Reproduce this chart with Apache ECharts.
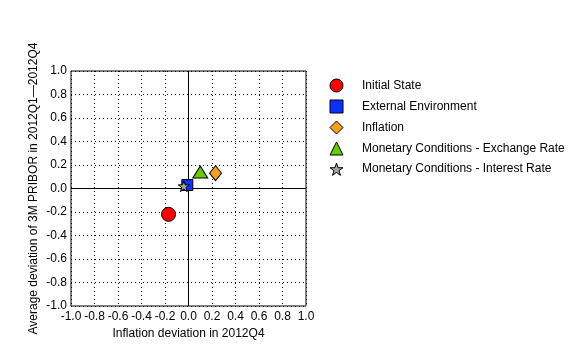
<!DOCTYPE html>
<html><head><meta charset="utf-8">
<script src="https://cdn.jsdelivr.net/npm/echarts@6/dist/echarts.min.js"></script>
<style>html,body{margin:0;padding:0;background:#fff}#c{width:581px;height:360px}</style>
</head><body><div id="c"></div>
<script>
const seriesNames = ['Initial State','External Environment','Inflation','Monetary Conditions - Exchange Rate','Monetary Conditions - Interest Rate'];
const xValues = [-0.17, -0.01, 0.23, 0.10, -0.04];
const yValues = [-0.22, 0.03, 0.13, 0.14, 0.02];
const tickValues = [-1.0,-0.8,-0.6,-0.4,-0.2,0.0,0.2,0.4,0.6,0.8,1.0];
const xTitle = 'Inflation deviation in 2012Q4';
const yTitle = 'Average deviation of 3M PRIBOR in 2012Q1\u20142012Q4';

const STAR = 'path://M100,0 L122.45,69.1 L195.1,69.1 L136.3,111.8 L158.8,180.9 L100,138.2 L41.2,180.9 L63.7,111.8 L4.9,69.1 L77.55,69.1 Z';
const symbols = ['circle','rect','diamond','triangle',STAR];
const sizes = [[14,14],[11,11],[12,15],[15,12],[11,11]];
const colors = ['#ff0000','#0a32ff','#f2a01e','#66cc00','#a8a8a8'];

const font = 'Liberation Sans, Arial, sans-serif';
const chart = echarts.init(document.getElementById('c'), null, {renderer:'canvas'});
const series = seriesNames.map((n,i)=>({
  name:n, type:'scatter', symbol:symbols[i], symbolSize:sizes[i],
  itemStyle:{color:colors[i], borderColor:'#000', borderWidth:1, opacity:1},
  data:[[xValues[i], yValues[i]]], z:10+i
}));
series[0].markLine = {
  silent:true, symbol:'none', label:{show:false},
  lineStyle:{color:'#000', type:'solid', width:1},
  data:[{xAxis:0},{yAxis:0}], animation:false
};
chart.setOption({
  animation:false,
  textStyle:{fontFamily:font},
  grid:{left:71, top:71, width:235, height:235, show:true, borderColor:'#000', borderWidth:1, backgroundColor:'transparent'},
  legend:{
    orient:'vertical', left:324.5, top:73.5, itemGap:7, itemWidth:13, itemHeight:13,
    data:seriesNames.map((n,i)=>({name:n, icon:symbols[i], itemStyle:{color:colors[i], borderColor:'#000', borderWidth:1}})),
    textStyle:{fontFamily:font, fontSize:12, color:'#000', padding:[0,0,0,14], lineHeight:13},
    selectedMode:false
  },
  xAxis:{
    type:'value', min:-1, max:1, interval:0.2,
    name:xTitle, nameLocation:'middle', nameGap:21,
    nameTextStyle:{fontFamily:font, fontSize:12, color:'#000'},
    axisLine:{show:false}, axisTick:{show:false},
    axisLabel:{color:'#000', fontSize:12, fontFamily:font, margin:5, formatter:v=>v.toFixed(1)},
    splitLine:{show:true, lineStyle:{color:'#000', type:[1,3], width:1}}
  },
  yAxis:{
    type:'value', min:-1, max:1, interval:0.2,
    name:yTitle, nameLocation:'middle', nameGap:31,
    nameTextStyle:{fontFamily:font, fontSize:12, color:'#000'},
    axisLine:{show:false}, axisTick:{show:false},
    axisLabel:{color:'#000', fontSize:12, fontFamily:font, margin:4, formatter:v=>v.toFixed(1)},
    splitLine:{show:true, lineStyle:{color:'#000', type:[1,3], width:1}}
  },
  series:series
});
</script></body></html>
